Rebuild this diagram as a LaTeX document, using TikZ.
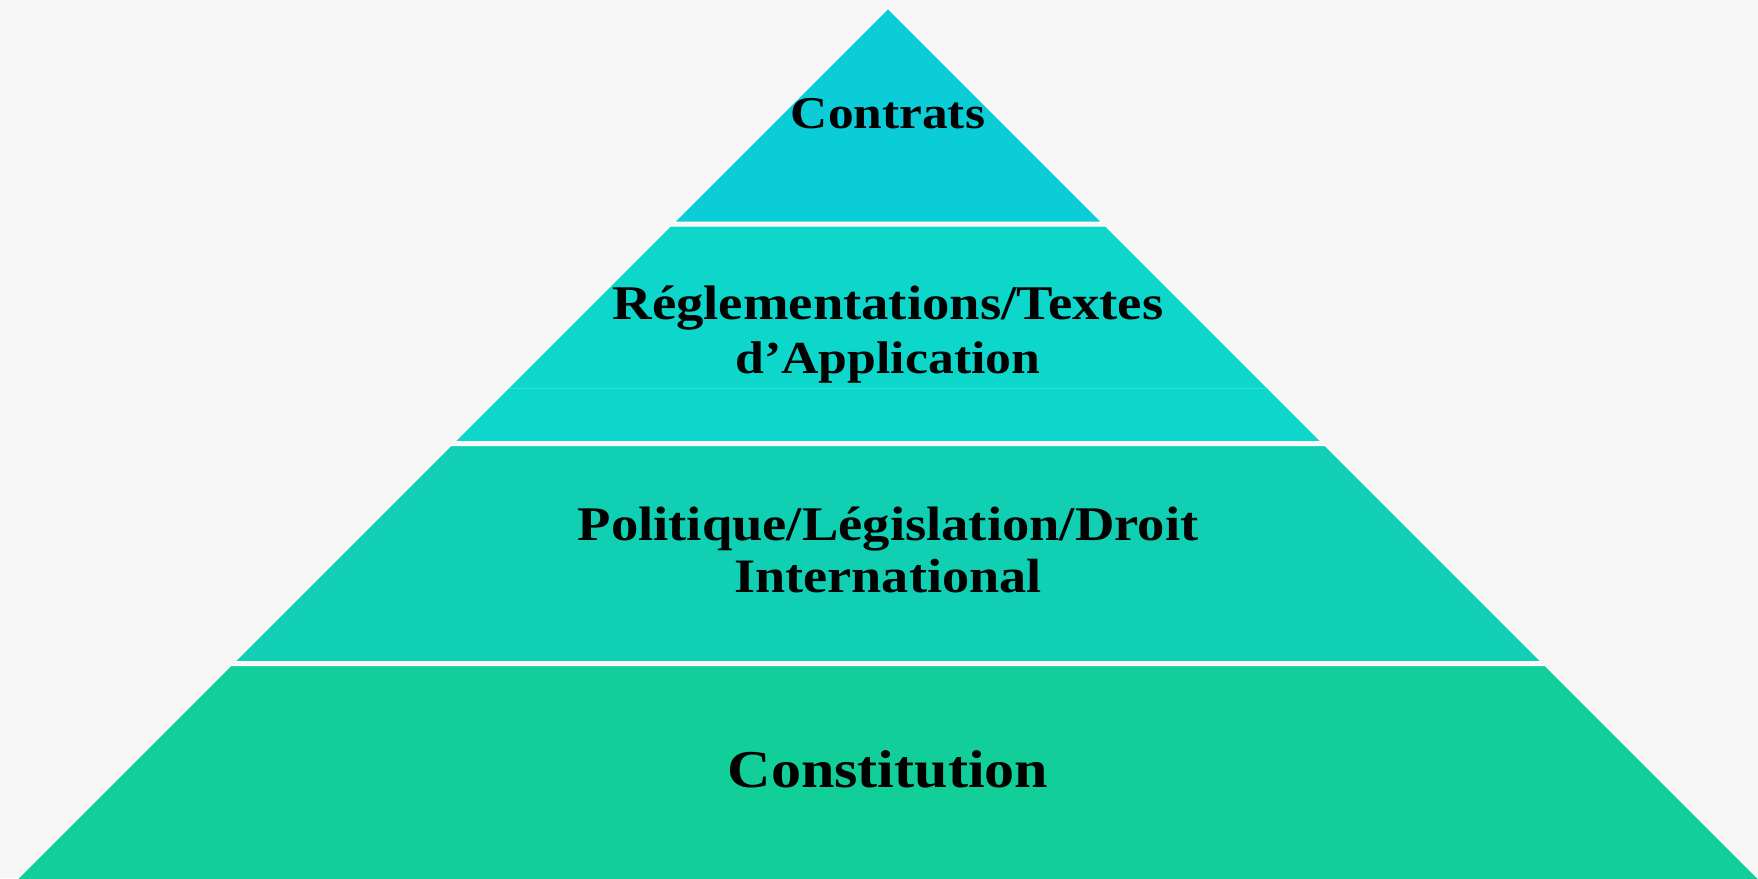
\documentclass[tikz,border=0pt]{standalone}
\usepackage{fontspec}
\newfontfamily\labelfont[FakeStretch=1.13]{Liberation Serif}
\definecolor{pagebg}{HTML}{F6F6F6}
\definecolor{tierA}{HTML}{0BCDD8}
\definecolor{tierB}{HTML}{0DD6CA}
\definecolor{tierC}{HTML}{10CFB3}
\definecolor{tierD}{HTML}{12CF9A}
\definecolor{seam}{HTML}{3CDDD4}
\begin{document}
\begin{tikzpicture}[x=1pt,y=-1pt,
  tier/.style={draw=white,line width=1.5pt,line join=miter},
  tiertext/.style={inner sep=0pt,anchor=base,text=black,
    font=\labelfont\bfseries\fontsize{#1}{#1}\selectfont},
  tiertext/.default=48]
  % page
  \fill[pagebg] (0,0) rectangle (1758,878);
  \useasboundingbox (0,0) rectangle (1758,878);
  % tiers of the pyramid: left edge x = 896 - y, right edge x = 880 + y
  \fill[tierA,tier] (888,8) -- (1102.25,222.25) -- (673.75,222.25) -- cycle;
  \fill[tierB,tier] (670.25,225.75) -- (1105.75,225.75) -- (1321.75,441.75) -- (454.25,441.75) -- cycle;
  \fill[tierC,tier] (450.75,445.25) -- (1325.25,445.25) -- (1541.75,661.75) -- (234.25,661.75) -- cycle;
  \fill[tierD,tier] (230.75,665.25) -- (1545.25,665.25) -- (1760,880) -- (16,880) -- cycle;
  % faint seam inside the second tier
  \coordinate (seamL) at (508.5,388);
  \coordinate (seamR) at (1267.5,388);
  \draw[seam,line width=0.8pt] (seamL) -- (seamR);
  % labels
  \node[tiertext=45.5] (contrats) at (888,128) {Contrats};
  \node[tiertext=48.4] (regA) at (888,319) {Réglementations/Textes};
  \node[tiertext=45.8] (regB) at (888,373) {d’Application};
  \node[tiertext=48.3] (polA) at (888,540) {Politique/Législation/Droit};
  \node[tiertext=48] (polB) at (888,592) {International};
  \node[tiertext=53.2] (constitution) at (888,787) {Constitution};
\end{tikzpicture}
\end{document}
